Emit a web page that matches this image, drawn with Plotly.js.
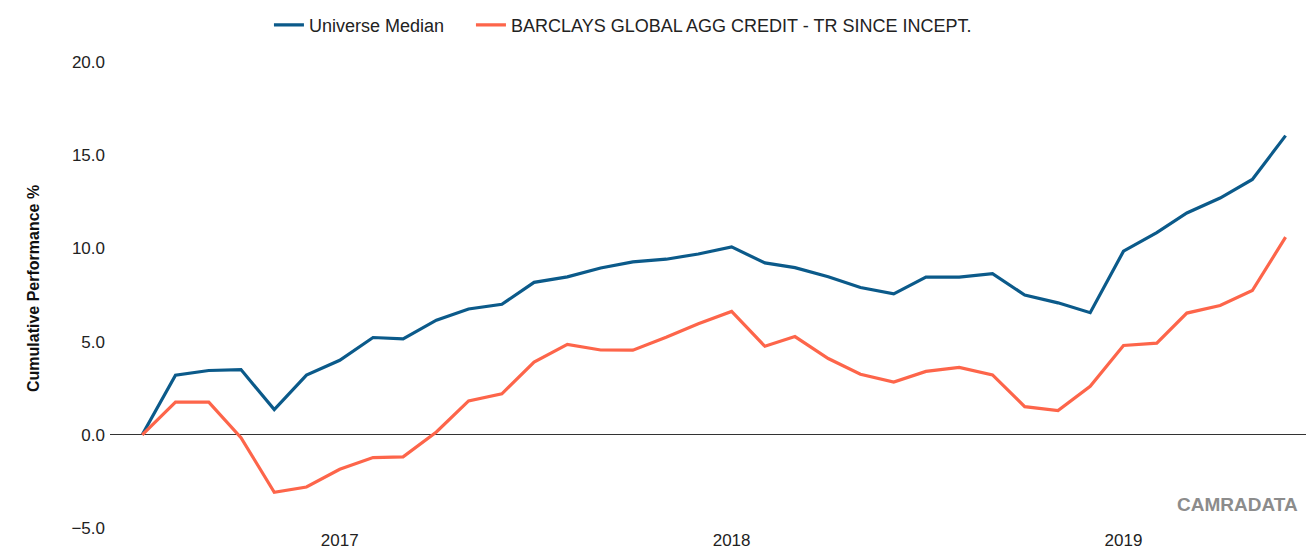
<!DOCTYPE html>
<html>
<head>
<meta charset="utf-8">
<script src="https://cdn.plot.ly/plotly-3.0.1.min.js"></script>
<style>
  html, body { margin: 0; padding: 0; background: #fff; }
  #chart { width: 1306px; height: 553px; }
</style>
</head>
<body>
<div id="chart"></div>
<script>
const months = [
  '2016-07-01','2016-08-01','2016-09-01','2016-10-01','2016-11-01','2016-12-01',
  '2017-01-01','2017-02-01','2017-03-01','2017-04-01','2017-05-01','2017-06-01',
  '2017-07-01','2017-08-01','2017-09-01','2017-10-01','2017-11-01','2017-12-01',
  '2018-01-01','2018-02-01','2018-03-01','2018-04-01','2018-05-01','2018-06-01',
  '2018-07-01','2018-08-01','2018-09-01','2018-10-01','2018-11-01','2018-12-01',
  '2019-01-01','2019-02-01','2019-03-01','2019-04-01','2019-05-01','2019-06-01'
];
const universeMedian = [
  0.0, 3.2, 3.45, 3.5, 1.35, 3.2,
  4.0, 5.22, 5.15, 6.15, 6.75, 7.0,
  8.18, 8.47, 8.95, 9.28, 9.42, 9.7,
  10.08, 9.22, 8.97, 8.48, 7.9, 7.56,
  8.46, 8.46, 8.64, 7.5, 7.08, 6.55,
  9.85, 10.85, 11.9, 12.7, 13.7, 16.05
];
const barclaysCredit = [
  0.0, 1.75, 1.75, -0.15, -3.08, -2.8,
  -1.85, -1.22, -1.18, 0.15, 1.82, 2.2,
  3.9, 4.85, 4.55, 4.54, 5.23, 5.96,
  6.62, 4.75, 5.27, 4.09, 3.25, 2.83,
  3.4, 3.62, 3.21, 1.51, 1.3, 2.6,
  4.79, 4.92, 6.53, 6.94, 7.74, 10.6
];
const seriesNames = ['Universe Median', 'BARCLAYS GLOBAL AGG CREDIT - TR SINCE INCEPT.'];
const yTickVals = [-5, 0, 5, 10, 15, 20];
const xTickVals = ['2017-01-01', '2018-01-01', '2019-01-01'];
const xTickText = ['2017', '2018', '2019'];

const FONT = '"Liberation Sans", Arial, sans-serif';

const traces = [
  { x: months, y: universeMedian, name: seriesNames[0], type: 'scatter', mode: 'lines',
    legend: 'legend',
    line: { color: '#0b5a8a', width: 3.2 } },
  { x: months, y: barclaysCredit, name: seriesNames[1], type: 'scatter', mode: 'lines',
    legend: 'legend2',
    line: { color: '#fd654a', width: 3.2 } }
];

const legendBase = {
  orientation: 'h', xanchor: 'left', y: 1.079, yanchor: 'middle',
  font: { family: FONT, size: 18, color: '#222' },
  itemwidth: 30, bgcolor: 'rgba(0,0,0,0)'
};

const layout = {
  width: 1306, height: 553,
  margin: { l: 110, r: 0, t: 62, b: 25 },
  paper_bgcolor: '#fff', plot_bgcolor: '#fff',
  font: { family: FONT, size: 16, color: '#222' },
  showlegend: true,
  legend: Object.assign({}, legendBase, { x: 0.1329 }),
  legend2: Object.assign({}, legendBase, { x: 0.3018 }),
  xaxis: {
    type: 'date',
    range: ['2016-06-01', '2019-06-20'],
    tickvals: xTickVals, ticktext: xTickText,
    showgrid: false, zeroline: false, showline: false, ticks: '',
    tickfont: { family: FONT, size: 17, color: '#222' }
  },
  yaxis: {
    range: [-5, 20],
    tickvals: yTickVals,
    tickformat: '.1f',
    showgrid: false, showline: false, ticks: '',
    zeroline: true, zerolinecolor: '#333', zerolinewidth: 1,
    tickfont: { family: FONT, size: 17, color: '#222' },
    ticklabelstandoff: 4
  },
  annotations: [
    {
      text: '<b>Cumulative Performance %</b>', xref: 'paper', yref: 'paper',
      x: -0.0644, y: 0.515, xanchor: 'center', yanchor: 'middle', textangle: -90,
      showarrow: false,
      font: { family: FONT, size: 16, color: '#111' }
    },
    {
      text: '<b>CAMRADATA</b>', xref: 'paper', yref: 'paper', x: 0.995, y: 0.05,
      xanchor: 'right', yanchor: 'middle', showarrow: false,
      font: { family: FONT, size: 19, color: '#8c8c8c' }
    }
  ]
};

Plotly.newPlot('chart', traces, layout, { displayModeBar: false, staticPlot: true });
</script>
</body>
</html>
